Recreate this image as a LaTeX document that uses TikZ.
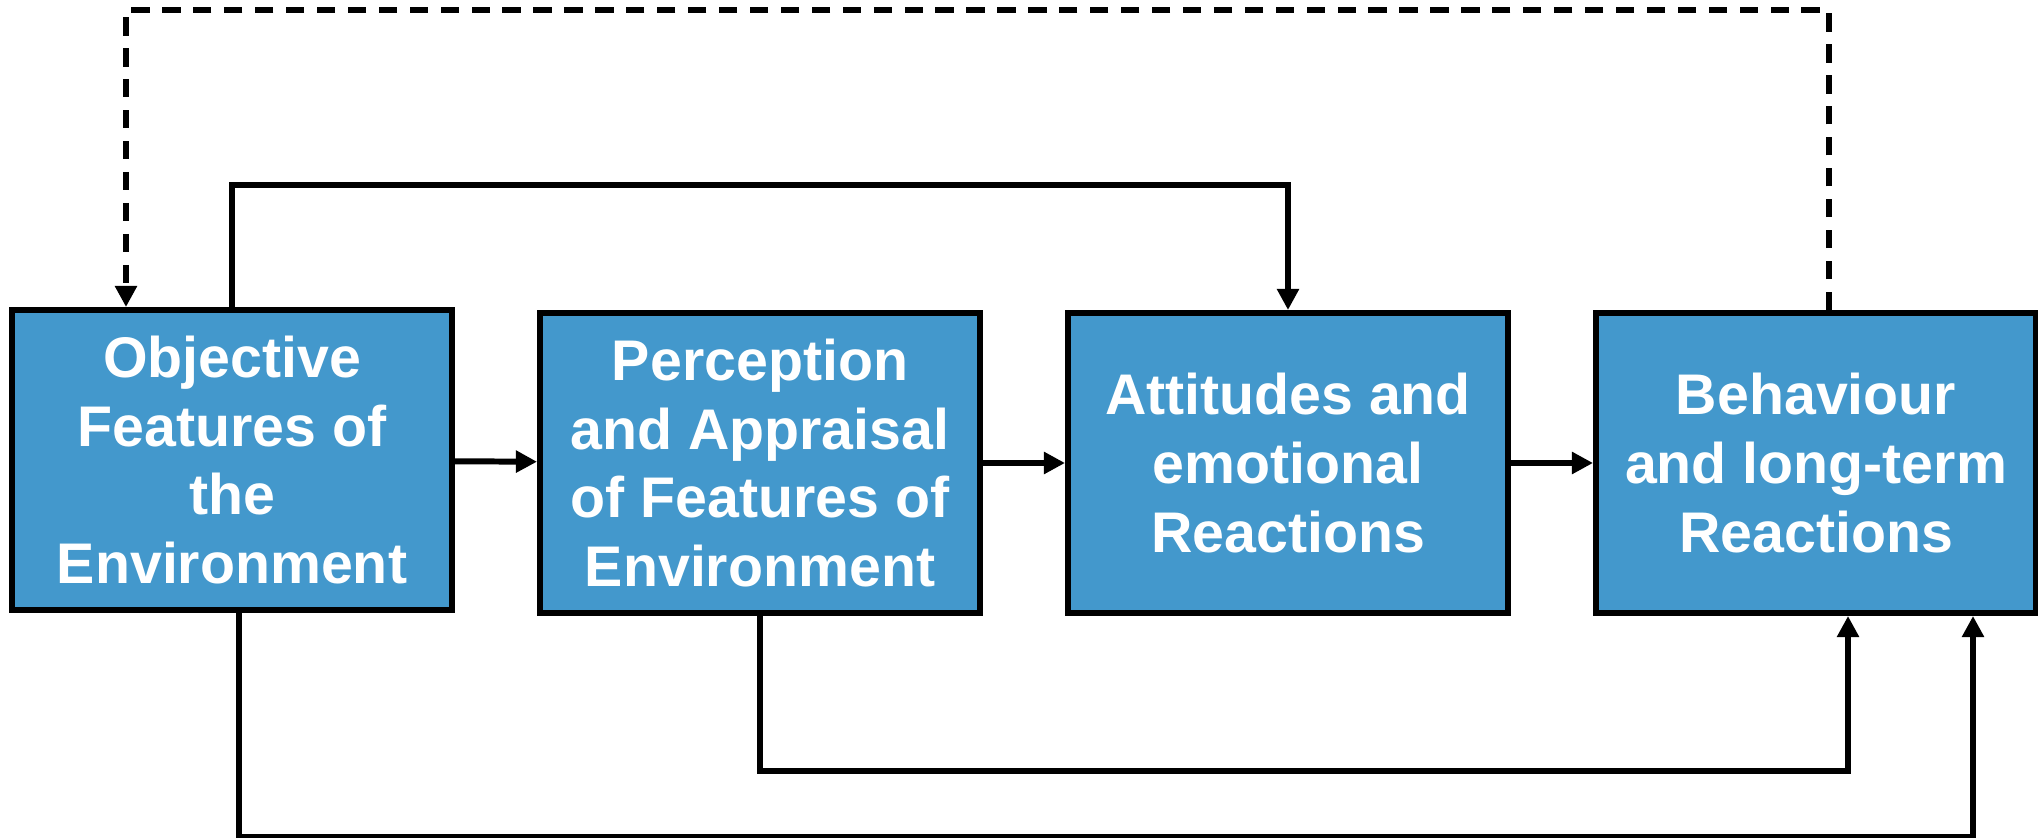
\documentclass[tikz,border=0pt]{standalone}
\usepackage{fontspec}
\setmainfont{Liberation Sans}
\usepackage{tikz}
\usetikzlibrary{arrows.meta, positioning}
\definecolor{boxblue}{RGB}{67,152,204}

\begin{document}
\begin{tikzpicture}[node distance=5.28cm,on grid,
		block/.style={draw=black, line width=1.7pt, fill=boxblue, text=white,
			minimum width=4.4cm, minimum height=3cm, align=center,
			font=\fontsize{16.3}{19.6}\selectfont\bfseries},
		link/.style={-{Triangle[length=6pt,width=6pt]}, line width=1.7pt},
		feedback/.style={link, dash pattern=on 5.2pt off 3.6pt}]
		\useasboundingbox (0,0) rectangle (20.38,-8.38);
		\node[block] (obj) at (2.32,-4.6) {Objective\\Features of\\the\\Environment};
		\node[block, right = of obj, yshift=-0.3mm] (perc) {Perception\\and Appraisal\\of Features of\\Environment};
		\node[block, right = of perc] (att) {Attitudes and\\emotional\\Reactions};
		\node[block, right = of att] (beh) {Behaviour\\and long-term\\Reactions};
		
		\draw[link] (obj) -- (perc);
		\draw[link] (perc) -- (att);
		\draw[link] (att) -- (beh);
		\draw[link] (obj.north) -- ++(0,1.22) -| (att.north);
		\draw[feedback] ([xshift=1.3mm]beh.north) -- ++(0,3.0) -| ([xshift=-10.6mm]obj.north);
		\draw[link] (perc.south) -- ++(0,-1.55) -| ([xshift=3.2mm]beh.south);
		\draw[link] ([xshift=0.7mm]obj.south) -- ++(0,-2.24) -| ([xshift=15.7mm]beh.south);
	\end{tikzpicture}
\end{document}
